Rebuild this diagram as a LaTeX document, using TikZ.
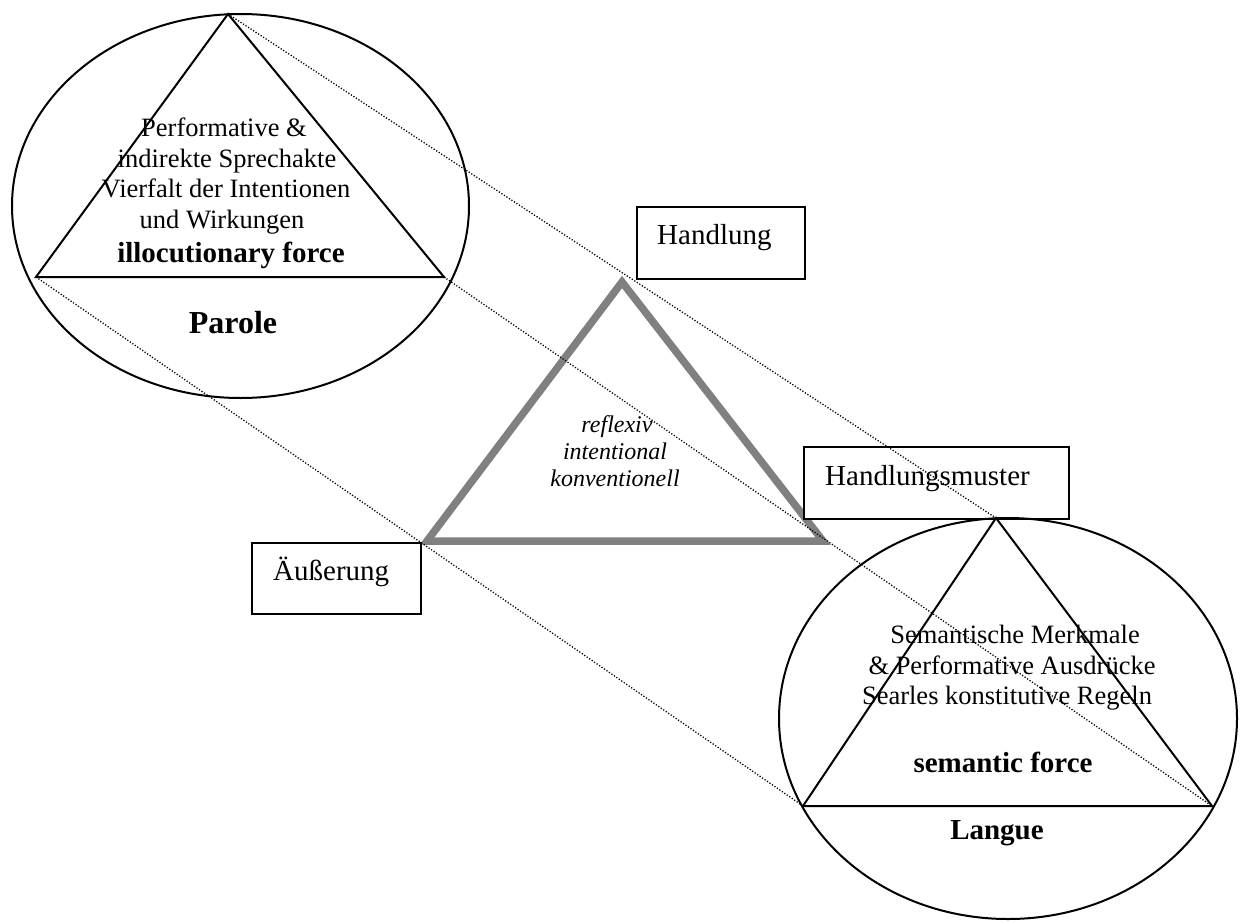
\documentclass[tikz,border=0pt]{standalone}
\usepackage{fontspec}
\setmainfont{Liberation Serif}
\usetikzlibrary{shapes.geometric}
\begin{document}
\begin{tikzpicture}[x=1pt,y=-1pt,
  outline/.style={draw=black, line width=2pt, line join=miter},
  oval/.style={ellipse, draw=black, line width=2pt, inner sep=0pt, outer sep=0pt},
  txt/.style={font=\fontsize{26.5}{30.7}\selectfont, inner sep=0pt, anchor=base},
  boldtxt/.style={font=\fontsize{29}{33}\selectfont\bfseries, inner sep=0pt, anchor=base},
  bigbold/.style={font=\fontsize{32}{36}\selectfont\bfseries, inner sep=0pt, anchor=base},
  ital/.style={font=\fontsize{24}{27}\selectfont\itshape, inner sep=0pt, anchor=base},
  labelbox/.style={draw=black, fill=white, line width=2.4pt, inner xsep=21pt, inner ysep=0pt,
    align=left, anchor=north west, font=\fontsize{29}{33}\selectfont},
  dots/.style={draw=black, line width=1.3pt, dash pattern=on 1.2pt off 1.8pt},
  graytri/.style={draw=gray, line width=7.5pt, line join=miter}]
\useasboundingbox (0,0) rectangle (1241,921);

% corner coordinates
\coordinate (lA) at (228,14);
\coordinate (lL) at (36,277);
\coordinate (lR) at (444,277);
\coordinate (rA) at (996,518);
\coordinate (rL) at (803,806);
\coordinate (rR) at (1212,806);
\coordinate (gA) at (622,282);
\coordinate (gL) at (427,541);
\coordinate (gR) at (823,541);

% central gray triangle
\draw[graytri] (gA) -- (gL) -- (gR) -- cycle;

% boxes
\node[labelbox, inner xsep=20pt, text width=128pt, text height=37pt, text depth=35pt] (handlung) at (636,206) {Handlung};
\node[labelbox, text width=127pt, text height=37pt, text depth=34pt] (aeusserung) at (251,542) {Äußerung};
\node[labelbox, text width=223pt, text height=38pt, text depth=34pt] (muster) at (803,446) {Handlungsmuster};

% ellipses
\node[oval, minimum width=457pt, minimum height=384pt] (paroleoval) at (240.5,206) {};
\node[oval, minimum width=458pt, minimum height=401pt] (langueoval) at (1008,718.5) {};

% triangles
\draw[outline] (lA) -- (lL) -- (lR) -- cycle;
\draw[outline] (rA) -- (rL) -- (rR) -- cycle;

% dotted connectors
\draw[dots] (lA) -- (rA);
\draw[dots] (lR) -- (rR);
\draw[dots] (lL) -- (rL);

% left texts
\node[txt] (l1) at (224,136) {Performative \&};
\node[txt] (l2) at (227,167) {indirekte Sprechakte};
\node[txt] (l3) at (226,197) {Vierfalt der Intentionen};
\node[txt] (l4) at (222,228) {und Wirkungen};
\node[boldtxt] (l5) at (231,262) {illocutionary force};
\node[bigbold] (parole) at (233,333) {Parole};

% central texts
\node[ital] (i1) at (617,432) {reflexiv};
\node[ital] (i2) at (615,459) {intentional};
\node[ital] (i3) at (615,486) {konventionell};

% right texts
\node[txt] (r1) at (1015,643) {Semantische Merkmale};
\node[txt] (r2) at (1012,674) {\& Performative Ausdrücke};
\node[txt] (r3) at (1007,704) {Searles konstitutive Regeln};
\node[boldtxt] (r4) at (1003,772) {semantic force};
\node[boldtxt] (langue) at (997,839) {Langue};
\end{tikzpicture}
\end{document}
